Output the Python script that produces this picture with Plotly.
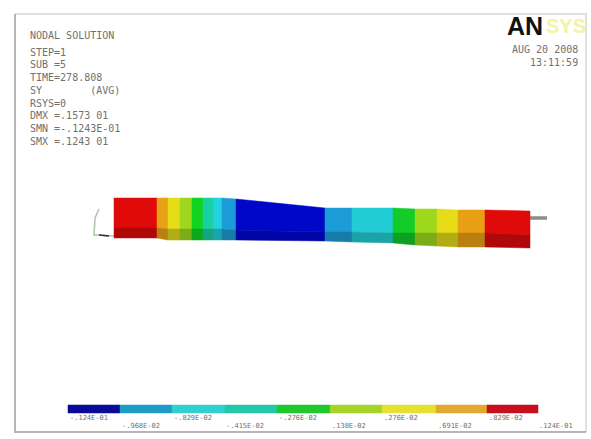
import plotly.graph_objects as go

# Beam contour bands (in image pixels)
band_x = [114, 157, 168, 180, 192, 203, 213, 222, 236, 325, 352, 393, 415, 437, 458, 485, 530]
band_top = [198, 198, 198, 198, 198, 198, 198, 198, 199, 208, 208, 208, 209, 209, 210, 210, 211]
band_mid = [228, 228, 229, 229, 229, 229, 229, 229, 230, 232, 232, 233, 233, 233, 233, 233, 235]
band_bot = [238, 238, 240, 240, 240, 240, 240, 240, 240, 241, 242, 243, 245, 246, 247, 247, 248]
band_col = ["#e00a0a", "#e8a015", "#e6dc18", "#9ed81c", "#12d420", "#18d0a0", "#22d2dc", "#1c9cd6",
            "#0008c8", "#1c9cd6", "#22ccd4", "#12cc28", "#9ed81c", "#e6dc18", "#e8a015", "#e00a0a"]
band_dark = ["#b00808", "#b88010", "#b4ac14", "#7cac16", "#0ea81a", "#14a480", "#1aa4ac", "#167ca8",
             "#0006a8", "#167ca8", "#1aa4a8", "#0ea020", "#7cac16", "#b4ac14", "#b88010", "#b00808"]

# Legend strip
legend_edges = [68, 120, 172, 225, 277, 330, 382, 436, 487, 538]
legend_cols = ["#0a0a9a", "#1e9cc8", "#30d0d0", "#22c8a8", "#20c82c", "#a4d428", "#e6e030", "#e4a830", "#c80f1e"]
legend_upper = ["-.124E-01", "-.829E-02", "-.276E-02", ".276E-02", ".829E-02"]
legend_upper_x = [89, 193, 298, 401, 506]
legend_lower = ["-.968E-02", "-.415E-02", ".138E-02", ".691E-02", ".124E-01"]
legend_lower_x = [141, 245, 349, 455, 556]

info_lines = ["NODAL SOLUTION", "STEP=1", "SUB =5", "TIME=278.808", "SY        (AVG)", "RSYS=0",
              "DMX =.1573 01", "SMN =-.1243E-01", "SMX =.1243 01"]
info_y = [35, 52, 64, 77, 90, 103, 115, 128, 141]
stamp_lines = ["AUG 20 2008", "13:11:59"]
stamp_y = [49, 62]

fig = go.Figure()

# frame: left and bottom edges are darker than top and right
fig.add_trace(go.Scatter(x=[15, 586, 586], y=[14, 14, 432], mode="lines",
                         line=dict(color="#e0e0e0", width=2), hoverinfo="skip"))
fig.add_trace(go.Scatter(x=[15, 15, 586], y=[14, 432, 432], mode="lines",
                         line=dict(color="#b4b4b4", width=2), hoverinfo="skip"))

# constraint glyph and end stub
fig.add_trace(go.Scatter(x=[99, 95, 94, 97, 114], y=[209, 218, 235, 235, 236], mode="lines",
                         line=dict(color="#a8c8a8", width=1.5), hoverinfo="skip"))
fig.add_trace(go.Scatter(x=[99, 109], y=[235, 236], mode="lines",
                         line=dict(color="#303030", width=1.5), hoverinfo="skip"))
fig.add_trace(go.Scatter(x=[528, 547], y=[218, 218], mode="lines",
                         line=dict(color="#8c8c8c", width=3.5), hoverinfo="skip"))

for i, c in enumerate(band_col):
    a, b = band_x[i], band_x[i + 1]
    fig.add_trace(go.Scatter(x=[a, b, b, a, a],
                             y=[band_top[i], band_top[i + 1], band_mid[i + 1], band_mid[i], band_top[i]],
                             mode="lines", fill="toself", fillcolor=c, line=dict(color=c, width=0.5),
                             hoverinfo="skip"))
    fig.add_trace(go.Scatter(x=[a, b, b, a, a],
                             y=[band_mid[i], band_mid[i + 1], band_bot[i + 1], band_bot[i], band_mid[i]],
                             mode="lines", fill="toself", fillcolor=band_dark[i], line=dict(color=band_dark[i], width=0.5),
                             hoverinfo="skip"))

# legend strip
for i, c in enumerate(legend_cols):
    a, b = legend_edges[i], legend_edges[i + 1]
    fig.add_trace(go.Scatter(x=[a, b, b, a, a], y=[405, 405, 413, 413, 405], mode="lines",
                             fill="toself", fillcolor=c, line=dict(color=c, width=0.5), hoverinfo="skip"))

ann = []
def txt(x, y, s, anchor="left", size=10, color="#707070"):
    ann.append(dict(x=x, y=y, text=s, showarrow=False, xanchor=anchor, yanchor="middle",
                    font=dict(family="DejaVu Sans Mono", size=size, color=color)))

for s, y in zip(info_lines, info_y):
    txt(28, y, s)
for s, y in zip(stamp_lines, stamp_y):
    txt(580, y, s, anchor="right")
for s, x in zip(legend_upper, legend_upper_x):
    txt(x, 418, s, anchor="center", size=7)
for s, x in zip(legend_lower, legend_lower_x):
    txt(x, 426, s, anchor="center", size=7)

ann.append(dict(x=505, y=26, text="<b>AN</b>", showarrow=False, xanchor="left", yanchor="middle",
                font=dict(family="Liberation Sans", size=25, color="#111111")))
ann.append(dict(x=544, y=26, text="<b>SYS</b>", showarrow=False, xanchor="left", yanchor="middle",
                font=dict(family="Liberation Sans", size=20, color="#f2f4a0")))

fig.update_layout(
    width=591, height=439, margin=dict(l=0, r=0, t=0, b=0), autosize=False,
    paper_bgcolor="white", plot_bgcolor="white", showlegend=False, annotations=ann,
    xaxis=dict(range=[0, 591], visible=False, fixedrange=True),
    yaxis=dict(range=[439, 0], visible=False, fixedrange=True),
)
fig.write_html("out.html", config={"displayModeBar": False},
               post_script="document.body.style.margin='0';document.body.style.overflow='hidden';")
